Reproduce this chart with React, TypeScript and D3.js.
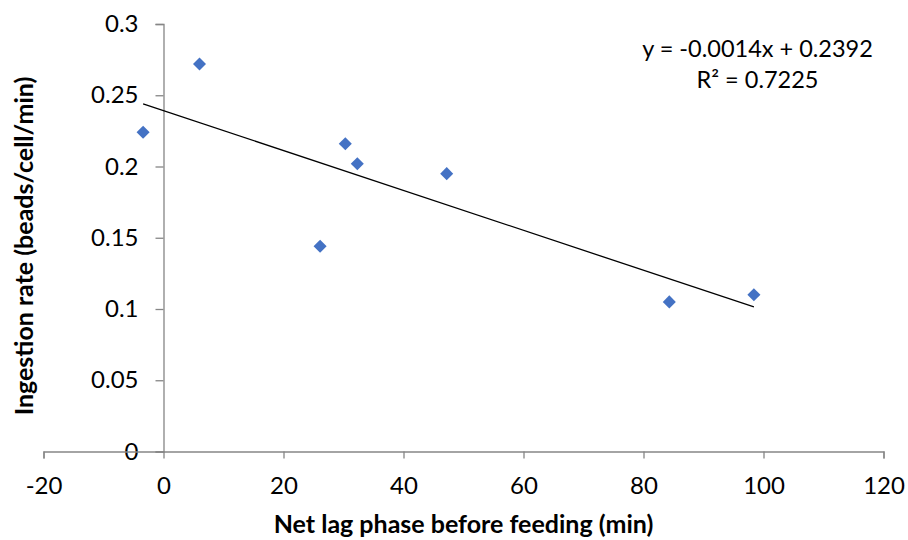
import React, { useEffect, useRef } from 'react';
import * as d3 from 'd3';

// measured points (net lag phase in min, ingestion rate)
const lagMin = [-3.4, 6, 26.1, 30.3, 32.3, 47.2, 84.3, 98.4];
const ingestion = [0.224, 0.272, 0.144, 0.216, 0.202, 0.195, 0.105, 0.11];

const xTicks = [-20, 0, 20, 40, 60, 80, 100, 120];
const yTicks = [0, 0.05, 0.1, 0.15, 0.2, 0.25, 0.3];

// linear trendline as printed on the chart
const slope = -0.0014;
const intercept = 0.2392;
const eqLabel = 'y = -0.0014x + 0.2392';
const r2Label = 'R² = 0.7225';

const FONT = 'Lato, "Open Sans", sans-serif';

const App = () => {
  const svgRef = useRef<SVGSVGElement>(null);

  useEffect(() => {
    document.body.style.margin = '0';
    const svg = d3.select(svgRef.current);
    svg.selectAll('*').remove();

    const width = 908;
    const height = 540;

    const x = d3.scaleLinear().domain([-20, 120]).range([43.5, 883.5]);
    const y = d3.scaleLinear().domain([0, 0.3]).range([451.5, 24]);

    svg.append('rect').attr('width', width).attr('height', height).attr('fill', '#fff');

    // y axis sits on x = 0
    const yAxis = d3.axisLeft(y)
      .tickValues(yTicks)
      .tickSize(8)
      .tickPadding(17)
      .tickFormat(d => String(+d));
    const gy = svg.append('g')
      .attr('transform', `translate(${x(0)},0)`)
      .call(yAxis);

    const xAxis = d3.axisBottom(x)
      .tickValues(xTicks)
      .tickSize(7)
      .tickPadding(18)
      .tickFormat(d => String(d));
    const gx = svg.append('g')
      .attr('transform', `translate(0,${y(0)})`)
      .call(xAxis);

    [gx, gy].forEach(g => {
      g.select('.domain').attr('stroke', '#868686').attr('stroke-width', 1.3);
      g.selectAll('.tick line').attr('stroke', '#868686').attr('stroke-width', 1.3);
      g.selectAll('.tick text')
        .attr('fill', '#000')
        .style('font-family', FONT)
        .style('font-size', '24px');
    });

    // trendline over the data range
    const [x0, x1] = d3.extent(lagMin) as [number, number];
    svg.append('line')
      .attr('x1', x(x0)).attr('y1', y(slope * x0 + intercept))
      .attr('x2', x(x1)).attr('y2', y(slope * x1 + intercept))
      .attr('stroke', '#000')
      .attr('stroke-width', 1.3);

    const diamond = d3.symbol().type(d3.symbolSquare).size(85);
    svg.append('g')
      .selectAll('path')
      .data(lagMin.map((v, i) => [v, ingestion[i]]))
      .enter()
      .append('path')
      .attr('d', diamond)
      .attr('transform', d => `translate(${x(d[0])},${y(d[1])}) rotate(45)`)
      .attr('fill', '#4472C4');

    svg.append('text')
      .attr('x', 757.5).attr('y', 57)
      .attr('text-anchor', 'middle')
      .style('font-family', FONT)
      .style('font-size', '23.5px')
      .text(eqLabel);
    svg.append('text')
      .attr('x', 757.5).attr('y', 88)
      .attr('text-anchor', 'middle')
      .style('font-family', FONT)
      .style('font-size', '23.5px')
      .text(r2Label);

    svg.append('text')
      .attr('x', 463.5).attr('y', 533)
      .attr('text-anchor', 'middle')
      .style('font-family', FONT)
      .style('font-size', '25px')
      .style('font-weight', 'bold')
      .text('Net lag phase before feeding (min)');

    svg.append('text')
      .attr('transform', 'translate(32.5,246) rotate(-90)')
      .attr('text-anchor', 'middle')
      .style('font-family', FONT)
      .style('font-size', '25px')
      .style('font-weight', 'bold')
      .text('Ingestion rate (beads/cell/min)');
  }, []);

  return <svg ref={svgRef} width={908} height={540} style={{ display: 'block' }}></svg>;
};

export default App;
